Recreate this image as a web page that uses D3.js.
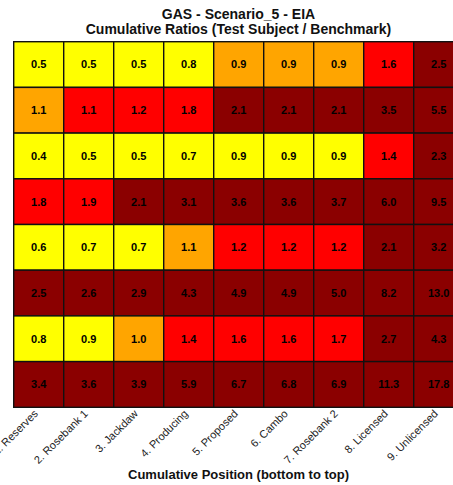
<!DOCTYPE html>
<html><head><meta charset="utf-8">
<script src="https://cdn.jsdelivr.net/npm/d3@7"></script>
<style>body{margin:0;background:#fff}svg{display:block}</style>
</head><body><svg id="c" width="453" height="485"></svg>
<script>
const columns = ["1. Reserves","2. Rosebank 1","3. Jackdaw","4. Producing","5. Proposed","6. Cambo","7. Rosebank 2","8. Licensed","9. Unlicensed"];
const rows = ["R1","R2","R3","R4","R5","R6","R7","R8"];
const row1 = [0.5,0.5,0.5,0.8,0.92,0.92,0.92,1.6,2.5];
const row2 = [1.08,1.12,1.2,1.8,2.1,2.1,2.1,3.5,5.5];
const row3 = [0.4,0.5,0.5,0.7,0.88,0.88,0.88,1.4,2.3];
const row4 = [1.8,1.9,2.1,3.1,3.6,3.6,3.7,6.0,9.5];
const row5 = [0.6,0.7,0.7,1.07,1.2,1.2,1.2,2.1,3.2];
const row6 = [2.5,2.6,2.9,4.3,4.9,4.9,5.0,8.2,13.0];
const row7 = [0.8,0.88,1.0,1.4,1.6,1.6,1.7,2.7,4.3];
const row8 = [3.4,3.6,3.9,5.9,6.7,6.8,6.9,11.3,17.8];
const values = [row1,row2,row3,row4,row5,row6,row7,row8];
const thresholds = [0.9,1.1,2.0];
const palette = ["#FFFF00","#FFA500","#FF0000","#8B0000"];

const svg = d3.select("#c");
const x = d3.scaleBand().domain(columns).range([13.7,463.7]);
const y = d3.scaleBand().domain(rows).range([41.7,407.3]);
const color = d3.scaleThreshold().domain(thresholds).range(palette);

const cells = [];
values.forEach((r,i)=>r.forEach((v,j)=>cells.push({row:rows[i],col:columns[j],v})));

svg.append("g").selectAll("rect").data(cells).join("rect")
  .attr("x",d=>x(d.col)).attr("y",d=>y(d.row))
  .attr("width",x.bandwidth()).attr("height",y.bandwidth())
  .attr("fill",d=>color(d.v)).attr("stroke","#111").attr("stroke-width",1.4);

svg.append("g").selectAll("text").data(cells).join("text")
  .attr("x",d=>x(d.col)+x.bandwidth()/2).attr("y",d=>y(d.row)+y.bandwidth()/2)
  .attr("dy","0.35em").attr("text-anchor","middle")
  .attr("font-family","Liberation Sans, Arial, sans-serif").attr("font-size",11).attr("font-weight","bold")
  .attr("fill","#000").text(d=>d.v.toFixed(1));

const xAxis = svg.append("g").attr("transform","translate(0,407.3)")
  .call(d3.axisBottom(x).tickSize(0).tickPadding(0));
xAxis.select(".domain").remove();
xAxis.selectAll("text")
  .attr("font-family","Liberation Sans, Arial, sans-serif").attr("font-size",11).attr("fill","#222")
  .attr("text-anchor","end").attr("dy",null).attr("y",0)
  .attr("transform","translate(0,7) rotate(-45)");

svg.append("text").attr("x",238.5).attr("y",19).attr("text-anchor","middle")
  .attr("font-family","Liberation Sans, Arial, sans-serif").attr("font-size",14).attr("font-weight","bold")
  .attr("fill","#111").text("GAS - Scenario_5 - EIA");
svg.append("text").attr("x",238.5).attr("y",34).attr("text-anchor","middle")
  .attr("font-family","Liberation Sans, Arial, sans-serif").attr("font-size",14).attr("font-weight","bold")
  .attr("fill","#111").text("Cumulative Ratios (Test Subject / Benchmark)");
svg.append("text").attr("x",238.5).attr("y",479).attr("text-anchor","middle")
  .attr("font-family","Liberation Sans, Arial, sans-serif").attr("font-size",13).attr("font-weight","bold")
  .attr("fill","#111").text("Cumulative Position (bottom to top)");
</script></body></html>
